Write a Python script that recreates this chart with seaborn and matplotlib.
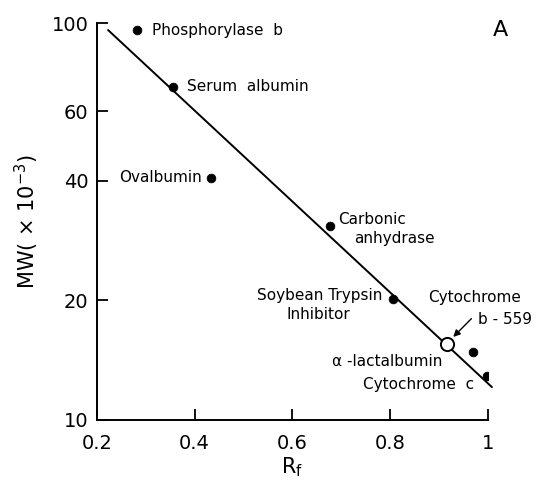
import matplotlib
matplotlib.use("Agg")
import matplotlib.pyplot as plt
import seaborn as sns
import pandas as pd

# protein markers: Rf vs MW (x 10^-3)
proteins = ["Phosphorylase b", "Serum albumin", "Ovalbumin", "Carbonic anhydrase",
            "Soybean Trypsin Inhibitor", "alpha-lactalbumin", "Cytochrome c"]
rf = [0.282, 0.356, 0.434, 0.676, 0.805, 0.969, 0.998]
mw = [96, 69, 40.7, 30.8, 20.2, 14.8, 12.9]

# unknown (open circle)
unk_rf = [0.916]
unk_mw = [15.5]

# fitted line end points
line_rf = [0.223, 1.008]
line_mw = [96, 12.1]

xticks = [0.2, 0.4, 0.6, 0.8, 1.0]
xticklabels = ["0.2", "0.4", "0.6", "0.8", "1"]
yticks = [10, 20, 40, 60, 100]

sns.set_style("ticks", {"xtick.direction": "in", "ytick.direction": "in"})
plt.rcParams["font.family"] = ["DejaVu Sans"]
plt.rcParams["text.color"] = "black"
plt.rcParams["axes.labelcolor"] = "black"

df = pd.DataFrame({"protein": proteins, "rf": rf, "mw": mw})

fig = plt.figure(figsize=(5.41, 4.90), dpi=100)
ax = fig.add_axes([0.179, 0.143, 0.723, 0.81])

sns.lineplot(x=line_rf, y=line_mw, ax=ax, color="black", linewidth=1.4, clip_on=False)
sns.scatterplot(data=df, x="rf", y="mw", ax=ax, color="black", s=40, edgecolor="black", zorder=3)
ax.scatter(unk_rf, unk_mw, s=90, facecolor="white", edgecolor="black", linewidth=1.4, zorder=4)

ax.set_yscale("log")
ax.set_xlim(0.2, 1.0)
ax.set_ylim(10, 100)
ax.set_xticks(xticks)
ax.set_xticklabels(xticklabels)
ax.set_yticks(yticks)
ax.set_yticklabels([str(v) for v in yticks])
ax.minorticks_off()
ax.tick_params(direction="in", length=8, width=1.3, labelsize=14, colors="black")
ax.tick_params(axis="x", pad=10)
ax.tick_params(axis="y", pad=6)
for s in ["top", "right"]:
    ax.spines[s].set_visible(False)
for s in ["left", "bottom"]:
    ax.spines[s].set_linewidth(1.4)
    ax.spines[s].set_color("black")

ax.set_xlabel("R$_\\mathregular{f}$", fontsize=15, labelpad=2)
ax.set_ylabel("MW( × 10$^{\\mathregular{-3}}$)", fontsize=15, labelpad=8)

fs = 11
ax.text(0.313, 96, "Phosphorylase  b", fontsize=fs, va="center")
ax.text(0.385, 69, "Serum  albumin", fontsize=fs, va="center")
ax.text(0.415, 40.7, "Ovalbumin", fontsize=fs, va="center", ha="right")
ax.text(0.694, 32.0, "Carbonic", fontsize=fs, va="center")
ax.text(0.727, 28.7, "anhydrase", fontsize=fs, va="center")
ax.text(0.785, 20.6, "Soybean Trypsin", fontsize=fs, va="center", ha="right")
ax.text(0.653, 18.4, "Inhibitor", fontsize=fs, va="center", ha="center")
ax.text(0.878, 20.3, "Cytochrome", fontsize=fs, va="center")
ax.text(0.98, 17.9, "b - 559", fontsize=fs, va="center", ha="left")
ax.text(0.68, 14.0, "α -lactalbumin", fontsize=fs, va="center")
ax.text(0.745, 12.3, "Cytochrome  c", fontsize=fs, va="center")
ax.annotate("", xy=(0.925, 16.0), xytext=(0.97, 18.2),
            arrowprops=dict(arrowstyle="-|>", color="black", lw=1.0, mutation_scale=10))
ax.text(1.01, 96, "A", fontsize=16, va="center", ha="left")

fig.savefig("out.png", dpi=100)
